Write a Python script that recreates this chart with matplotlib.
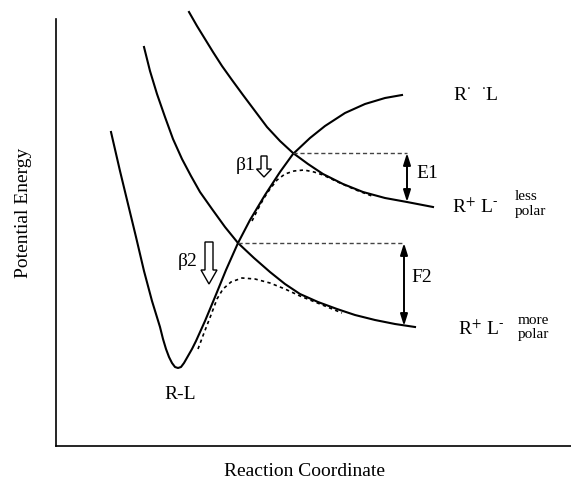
import numpy as np
import matplotlib.pyplot as plt

plt.rcParams['font.family'] = ['Liberation Serif', 'DejaVu Serif']
plt.rcParams['mathtext.fontset'] = 'stix'

# R-L bond curve (reaction coordinate, energy)
rl_x = [55, 64, 72, 80, 88, 96, 104, 107, 110, 113, 116, 119, 122, 125, 128, 132, 136, 140,
        149, 159, 170, 182, 194, 209, 224, 237, 254, 269, 289, 309, 329, 346]
rl_y = [314, 275, 242, 209, 175, 145, 119, 107, 97, 89, 83, 79, 78, 79, 83, 90, 97, 105,
        125, 149, 176, 203, 226, 251, 274, 292, 308, 320, 333, 342, 348, 351]

# R+ L- less polar
less_x = [133, 141, 149, 157, 166, 176, 187, 199, 211, 224, 237, 252, 267, 287, 307, 329, 351, 377]
less_y = [434, 420, 407, 394, 380, 366, 351, 335, 319, 305, 293, 282, 272, 262, 254, 248, 244, 239]

# R+ L- more polar
more_x = [88, 94, 101, 109, 117, 126, 135, 144, 156, 169, 182, 198, 214, 229, 244, 262, 281,
          299, 319, 339, 359]
more_y = [399, 375, 352, 329, 307, 287, 270, 254, 237, 219, 203, 188, 174, 162, 152, 144, 137,
          131, 126, 122, 119]

# mixed (adiabatic) curves
mix1_x = [196, 202, 208, 214, 221, 229, 238, 248, 258, 267, 284, 300, 316]
mix1_y = [225, 237, 248, 257, 266, 272, 275, 276, 274, 271, 263, 256, 250]
mix2_x = [142, 148, 155, 161, 167, 175, 186, 199, 214, 229, 244, 264, 286]
mix2_y = [97, 113, 131, 147, 157, 164, 168, 167, 163, 157, 150, 142, 133]

# crossing points and gap ends
cross_x = [237, 182]
cross_y = [293, 203]
gap_x = [351, 348]
gap_low = [244, 120]
gap_names = ['E1', 'F2']

fig = plt.figure(figsize=(5.71, 4.89), dpi=100)
ax = fig.add_axes([56 / 571, 42 / 489, 515 / 571, 427 / 489])
ax.set_xlim(0, 515)
ax.set_ylim(0, 427)
ax.spines['top'].set_visible(False)
ax.spines['right'].set_visible(False)
ax.spines['left'].set_linewidth(1.2)
ax.spines['bottom'].set_linewidth(1.2)
ax.set_xticks([])
ax.set_yticks([])

lw = 1.5
ax.plot(rl_x, rl_y, color='black', lw=lw, clip_on=False)
ax.plot(less_x, less_y, color='black', lw=lw, clip_on=False)
ax.plot(more_x, more_y, color='black', lw=lw, clip_on=False)
ax.plot(mix1_x, mix1_y, color='black', lw=1.2, ls=(0, (2, 2)))
ax.plot(mix2_x, mix2_y, color='black', lw=1.2, ls=(0, (2, 2)))

for i in range(2):
    ax.plot([cross_x[i], gap_x[i]], [cross_y[i], cross_y[i]], color='#444444', lw=1.0,
            ls=(0, (3, 2)))
    ax.annotate('', xy=(gap_x[i], gap_low[i]), xytext=(gap_x[i], cross_y[i]),
                arrowprops=dict(arrowstyle='<|-|>,head_length=0.7,head_width=0.22',
                                color='black', lw=1.4, shrinkA=0, shrinkB=0))

# hollow arrows
ax.arrow(208, 290, 0, -21, width=6, head_width=15, head_length=8,
         length_includes_head=True, fc='white', ec='black', lw=1.0)
ax.arrow(153, 204, 0, -42, width=8, head_width=16, head_length=14,
         length_includes_head=True, fc='white', ec='black', lw=1.0)

fs = 14
ax.text(190, 281, 'β1', fontsize=fs, ha='center', va='center')
ax.text(132, 185, 'β2', fontsize=fs, ha='center', va='center')
ax.text(371, 273, gap_names[0], fontsize=fs, ha='center', va='center')
ax.text(366, 169, gap_names[1], fontsize=fs, ha='center', va='center')
ax.text(124, 52, 'R-L', fontsize=fs, ha='center', va='center')
ax.text(420, 351, r'R$^{\cdot}$  $^{\cdot}$L', fontsize=fs, ha='center', va='center')
ax.text(419, 240, r'R$^{+}$ L$^{\text{-}}$', fontsize=fs, ha='center', va='center')
ax.text(459, 250, 'less', fontsize=11, ha='left', va='center')
ax.text(459, 235, 'polar', fontsize=11, ha='left', va='center')
ax.text(425, 118, r'R$^{+}$ L$^{\text{-}}$', fontsize=fs, ha='center', va='center')
ax.text(462, 126, 'more', fontsize=11, ha='left', va='center')
ax.text(462, 112, 'polar', fontsize=11, ha='left', va='center')

fig.text(24 / 571, 1 - 213 / 489, 'Potential Energy', fontsize=fs, rotation=90,
         ha='center', va='center')
fig.text(305 / 571, 1 - 472 / 489, 'Reaction Coordinate', fontsize=fs,
         ha='center', va='center')

fig.savefig('out.png', dpi=100)
